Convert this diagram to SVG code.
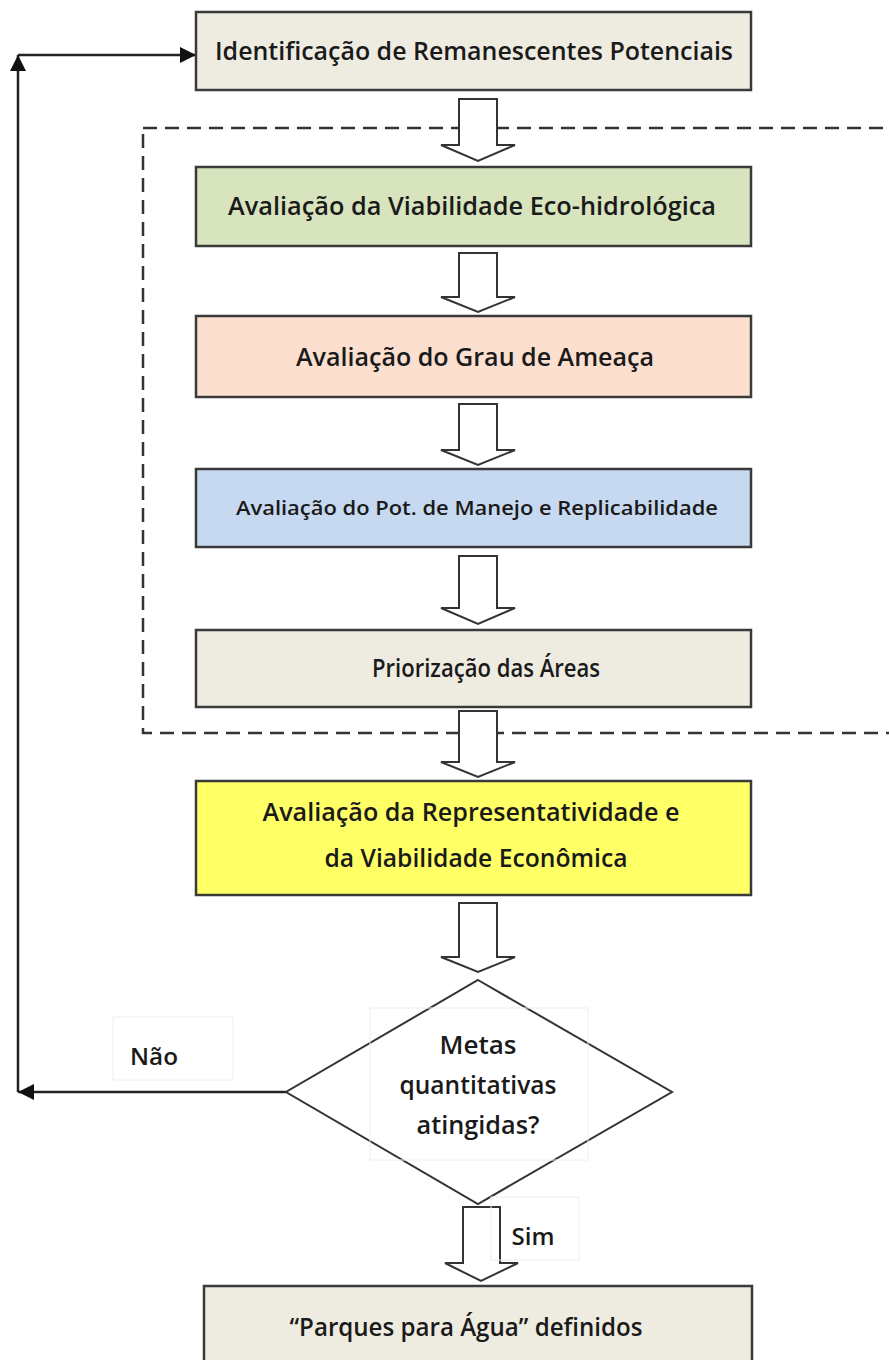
<svg xmlns="http://www.w3.org/2000/svg" width="889" height="1360" viewBox="0 0 889 1360">
<style>
.box{stroke:#3a3a3a;stroke-width:2.5}
.t{font-family:"Open Sans","Liberation Sans",sans-serif;font-weight:600;font-size:26px;fill:#1a1a1a;text-anchor:middle}
.ha{fill:#fff;stroke:#333;stroke-width:2;stroke-linejoin:miter}
.ln{fill:none;stroke:#222;stroke-width:2.5}
.lbl{fill:none;stroke:#eeeeee;stroke-width:1}
</style>
<defs>
<marker id="arr" viewBox="0 0 16 16" refX="16" refY="8" markerWidth="16" markerHeight="16" markerUnits="userSpaceOnUse" orient="auto">
<path d="M0,0 L16,8 L0,16 Z" fill="#111"/>
</marker>
</defs>
<rect x="0" y="0" width="889" height="1360" fill="#fff"/>
<g id="dashed-region">
<rect x="143" y="128" width="780" height="605" fill="none" stroke="#333" stroke-width="2.5" stroke-dasharray="14 8"/>
</g>
<g id="connectors">
<path class="ln" d="M286,1092 H18" marker-end="url(#arr)"/>
<path class="ln" d="M18,1092 V55" marker-end="url(#arr)"/>
<path class="ln" d="M18,55 H196" marker-end="url(#arr)"/>
<path class="ha" d="M459,99 H497 V145 H515 L478,161 L441,145 H459 Z"/>
<path class="ha" d="M459,253 H497 V297 H515 L478,312 L441,297 H459 Z"/>
<path class="ha" d="M459,404 H497 V450 H515 L478,465 L441,450 H459 Z"/>
<path class="ha" d="M459,556 H497 V608 H515 L478,624 L441,608 H459 Z"/>
<path class="ha" d="M459,711 H497 V762 H515 L478,777 L441,762 H459 Z"/>
<path class="ha" d="M459,903 H497 V957 H515 L478,972 L441,957 H459 Z"/>
<path class="ha" d="M463,1207 H500 V1263 H518 L481,1281 L445,1263 H463 Z"/>
</g>
<g id="n1">
<rect class="box" x="196" y="12" width="555" height="78" fill="#eeece1"/>
<text class="t" x="474" y="60" textLength="518" lengthAdjust="spacingAndGlyphs">Identificação de Remanescentes Potenciais</text>
</g>
<g id="n2">
<rect class="box" x="196" y="167" width="555" height="79" fill="#d7e4bd"/>
<text class="t" x="472" y="215" textLength="488" lengthAdjust="spacingAndGlyphs">Avaliação da Viabilidade Eco-hidrológica</text>
</g>
<g id="n3">
<rect class="box" x="196" y="316" width="555" height="81" fill="#fcdfcf"/>
<text class="t" x="475" y="366" textLength="358" lengthAdjust="spacingAndGlyphs">Avaliação do Grau de Ameaça</text>
</g>
<g id="n4">
<rect class="box" x="196" y="469" width="555" height="78" fill="#c6d9f1"/>
<text class="t" x="477" y="515" style="font-size:20px" textLength="482" lengthAdjust="spacingAndGlyphs">Avaliação  do Pot. de Manejo  e Replicabilidade</text>
</g>
<g id="n5">
<rect class="box" x="196" y="630" width="555" height="77" fill="#eeece1"/>
<text class="t" x="486" y="677" textLength="228" lengthAdjust="spacingAndGlyphs">Priorização das Áreas</text>
</g>
<g id="n6">
<rect class="box" x="196" y="781" width="555" height="114" fill="#ffff66"/>
<text class="t" x="471" y="821" textLength="417" lengthAdjust="spacingAndGlyphs">Avaliação da Representatividade e</text>
<text class="t" x="476" y="867" textLength="303" lengthAdjust="spacingAndGlyphs">da Viabilidade Econômica</text>
</g>
<g id="n7">
<polygon points="478,980 672,1092 478,1204 286,1092" fill="#fff" stroke="#333" stroke-width="2"/>
<rect class="lbl" x="370" y="1008" width="218" height="152"/>
<text class="t" x="478" y="1054" textLength="77" lengthAdjust="spacingAndGlyphs">Metas</text>
<text class="t" x="478" y="1094" textLength="157" lengthAdjust="spacingAndGlyphs">quantitativas</text>
<text class="t" x="478" y="1134" textLength="123" lengthAdjust="spacingAndGlyphs">atingidas?</text>
</g>
<g id="lbl-nao">
<rect class="lbl" x="113" y="1017" width="120" height="63"/>
<text class="t" x="154" y="1065" style="font-size:23px" textLength="48" lengthAdjust="spacingAndGlyphs">Não</text>
</g>
<g id="lbl-sim">
<rect class="lbl" x="491" y="1197" width="88" height="63"/>
<text class="t" x="533" y="1245" style="font-size:23px" textLength="43" lengthAdjust="spacingAndGlyphs">Sim</text>
</g>
<g id="n8">
<rect class="box" x="204" y="1286" width="548" height="90" fill="#eeece1"/>
<text class="t" x="466" y="1336" textLength="353" lengthAdjust="spacingAndGlyphs">“Parques para Água” definidos</text>
</g>
</svg>
